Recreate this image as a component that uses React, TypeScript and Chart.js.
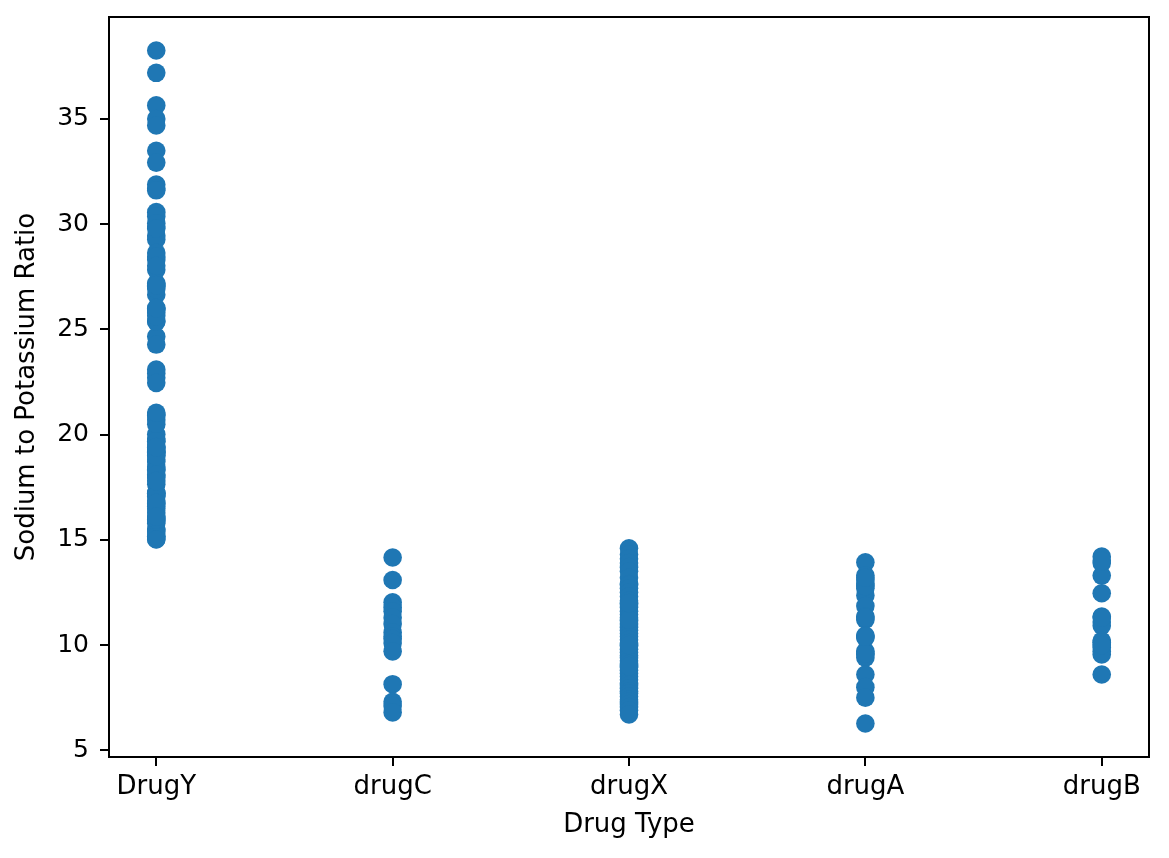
import React, { useEffect, useRef } from "react";
import { Chart, registerables } from "chart.js";

Chart.register(...registerables);

const categories = ["DrugY", "drugC", "drugX", "drugA", "drugB"];

const drugYValues = [
  25.355, 18.043, 16.275, 15.171, 19.368, 19.199, 15.376, 20.942, 15.516, 25.974,
  19.128, 25.917, 30.568, 15.036, 33.486, 18.809, 30.366, 22.697, 17.951, 31.876,
  19.221, 15.79, 31.686, 19.796, 19.416, 27.183, 18.457, 27.826, 18.703, 29.875,
  20.693, 27.05, 24.658, 24.276, 19.675, 22.905, 17.069, 20.909, 19.161, 15.478,
  23.091, 17.211, 16.594, 15.156, 29.45, 29.271, 15.015, 38.247, 25.395, 35.639,
  16.725, 28.294, 20.013, 16.85, 37.188, 34.997, 34.686, 32.922, 26.645, 28.632,
  25.786, 16.031, 18.348, 22.456, 15.891, 19.011, 16.47, 25.641, 17.206, 18.295,
  26.006, 30.035, 29.793, 20.489, 17.635, 17.225, 18.991, 17.091, 16.753, 28.453,
  21.036, 15.969, 28.023, 19.675, 19.403, 31.605, 26.916, 27.1, 18.1, 16.1, 17.8,
];
const drugCValues = [14.16, 13.09, 12.03, 11.8, 11.6, 11.3, 11.0, 10.6, 10.4, 10.3, 10.1, 9.7, 8.14, 7.3, 7.1, 6.8];
const drugXValues = [
  14.6, 14.3, 14.1, 13.9, 13.7, 13.5, 13.2, 12.9, 12.85, 12.7, 12.5, 12.3, 12.1, 11.95,
  11.8, 11.6, 11.45, 11.3, 11.15, 11.0, 10.85, 10.7, 10.55, 10.4, 10.25, 10.1, 9.95,
  9.8, 9.65, 9.5, 9.4, 9.25, 9.1, 8.95, 8.8, 8.65, 8.5, 8.35, 8.2, 8.1, 7.95, 7.8, 7.7,
  7.55, 7.4, 7.3, 7.2, 7.05, 6.9, 6.7, 9.0, 10.0, 11.2, 12.0,
];
const drugAValues = [13.93, 13.3, 13.1, 12.9, 12.7, 12.35, 11.85, 11.35, 11.2, 10.45, 10.35, 9.7, 9.55, 9.4, 8.6, 8.0, 7.5, 6.27, 12.8, 13.2, 11.3, 9.6, 10.4];
const drugBValues = [14.2, 13.9, 13.3, 12.46, 11.35, 11.1, 10.92, 10.2, 10.13, 9.9, 9.7, 9.55, 8.6, 14.0, 11.3, 10.0];

const seriesValues = [drugYValues, drugCValues, drugXValues, drugAValues, drugBValues];
const yTickValues = [5, 10, 15, 20, 25, 30, 35];

const FONT = "'DejaVu Sans', sans-serif";
const COLOR = "#1f77b4";

const framePlugin = {
  id: "frame",
  afterDraw(chart: any) {
    const { ctx, chartArea } = chart;
    ctx.save();
    ctx.strokeStyle = "#000";
    ctx.lineWidth = 2;
    ctx.strokeRect(chartArea.left, chartArea.top, chartArea.right - chartArea.left, chartArea.bottom - chartArea.top);
    ctx.restore();
  },
};

export default function App() {
  const canvasRef = useRef<HTMLCanvasElement | null>(null);

  useEffect(() => {
    document.body.style.margin = "0";
    const canvas = canvasRef.current;
    if (!canvas) return;
    const allPoints: { x: number; y: number }[] = [];
    seriesValues.forEach((vals, i) => vals.forEach((v) => allPoints.push({ x: i, y: v })));
    const chart = new Chart(canvas, {
      type: "scatter",
      data: {
        datasets: [
          {
            data: allPoints,
            backgroundColor: COLOR,
            borderColor: COLOR,
            borderWidth: 0,
            pointRadius: 9.3,
            pointHoverRadius: 9.3,
          },
        ],
      },
      options: {
        animation: false,
        responsive: false,
        maintainAspectRatio: false,
        layout: { padding: { left: 0, top: 17, right: 20, bottom: 0 } },
        plugins: { legend: { display: false }, tooltip: { enabled: false } },
        scales: {
          x: {
            type: "linear",
            min: -0.2,
            max: 4.2,
            afterBuildTicks: (scale: any) => {
              scale.ticks = categories.map((_, i) => ({ value: i }));
            },
            afterFit: (scale: any) => {
              scale.height = 101;
              scale.paddingLeft = 0;
              scale.paddingRight = 0;
            },
            ticks: {
              callback: (v: any) => categories[Math.round(Number(v))] ?? "",
              color: "#000",
              font: { family: FONT, size: 26 },
              padding: 6,
              maxRotation: 0,
              autoSkip: false,
            },
            grid: { display: true, drawOnChartArea: false, drawTicks: true, tickLength: 9, color: "#000", lineWidth: 2 },
            border: { display: false },
            title: {
              display: true,
              text: "Drug Type",
              color: "#000",
              font: { family: FONT, size: 26 },
              padding: { top: 0, bottom: 17 },
            },
          },
          y: {
            type: "linear",
            min: 4.68,
            max: 39.84,
            afterBuildTicks: (scale: any) => {
              scale.ticks = yTickValues.map((v) => ({ value: v }));
            },
            afterFit: (scale: any) => {
              scale.width = 109;
              scale.paddingTop = 0;
              scale.paddingBottom = 0;
            },
            ticks: {
              callback: (v: any) => String(v),
              color: "#000",
              font: { family: FONT, size: 25 },
              padding: 11,
            },
            grid: { display: true, drawOnChartArea: false, drawTicks: true, tickLength: 9, color: "#000", lineWidth: 2 },
            border: { display: false },
            title: {
              display: true,
              text: "Sodium to Potassium Ratio",
              color: "#000",
              font: { family: FONT, size: 26 },
              padding: { top: 12, bottom: 0 },
            },
          },
        },
      },
      plugins: [framePlugin],
    });
    return () => chart.destroy();
  }, []);

  return (
    <div style={{ position: "absolute", left: 0, top: 0, width: 1169, height: 858, background: "#fff" }}>
      <canvas ref={canvasRef} width={1169} height={858} style={{ width: 1169, height: 858 }} />
    </div>
  );
}
